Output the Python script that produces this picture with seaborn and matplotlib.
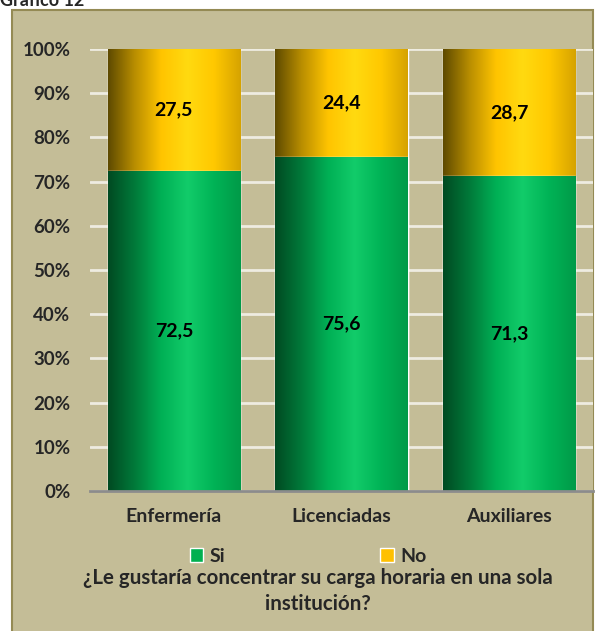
import numpy as np
import pandas as pd
import matplotlib
matplotlib.use("Agg")
import matplotlib.pyplot as plt
import seaborn as sns
from matplotlib.colors import LinearSegmentedColormap
from matplotlib.patches import Patch, Rectangle

# datos del grafico
grupos = ["Enfermería", "Licenciadas", "Auxiliares"]
si = [72.5, 75.6, 71.3]
no = [27.5, 24.4, 28.7]

df = pd.DataFrame({"grupo": grupos, "Si": si, "No": no})
df["total"] = df["Si"] + df["No"]

fondo = "#C4BD97"
sns.set_theme(style="white")
plt.rcParams["font.family"] = ["Lato", "DejaVu Sans"]
plt.rcParams["font.weight"] = "bold"

fig = plt.figure(figsize=(5.97, 6.31), dpi=100)
fig.patch.set_facecolor("white")

# marco del grafico
marco = Rectangle((12 / 597, -0.05), (593 - 12) / 597, 1 - 10 / 631 + 0.05,
                  transform=fig.transFigure, facecolor=fondo,
                  edgecolor="#948A54", linewidth=1.5, zorder=-5)
fig.add_artist(marco)
fig.text(0.0, 1.012, "Gráfico 12", fontsize=13, fontweight="bold", va="top", ha="left")

ax = fig.add_axes([90 / 597, 1 - 491 / 631, (593 - 90) / 597, (491 - 49) / 631])
ax.set_facecolor(fondo)

# barras apiladas: primero el total (No) y encima Si
sns.barplot(data=df, x="grupo", y="total", color="#FFC000", width=0.79,
            saturation=1, ax=ax, zorder=2)
sns.barplot(data=df, x="grupo", y="Si", color="#00B050", width=0.79,
            saturation=1, ax=ax, zorder=3)

cmap_no = LinearSegmentedColormap.from_list("no", ["#5E4A00", "#B98E00", "#FFC400", "#FFDA10", "#FFC800", "#D6A300"])
cmap_si = LinearSegmentedColormap.from_list("si", ["#004A22", "#007A3A", "#00B055", "#12CC6A", "#00B356", "#009A48"])

grad = np.linspace(0, 1, 256).reshape(1, -1)
n = len(grupos)
for i, p in enumerate(ax.patches):
    cmap = cmap_no if i < n else cmap_si
    x0, y0 = p.get_x(), p.get_y()
    w, h = p.get_width(), p.get_height()
    im = ax.imshow(grad, cmap=cmap, aspect="auto", extent=(x0, x0 + w, y0, y0 + h),
                   zorder=p.get_zorder() + 0.5)
    im.set_clip_path(p)

# etiquetas de valores
for i in range(n):
    ax.text(i, si[i] / 2, f"{si[i]:.1f}".replace(".", ","), ha="center", va="center",
            fontsize=14, fontweight="bold", color="black", zorder=10)
    ax.text(i, si[i] + no[i] / 2, f"{no[i]:.1f}".replace(".", ","), ha="center", va="center",
            fontsize=14, fontweight="bold", color="black", zorder=10)

ax.set_xlim(-0.5, n - 0.5)
ax.set_ylim(0, 100)
ax.set_yticks(np.arange(0, 101, 10))
ax.set_yticklabels([f"{v}%" for v in range(0, 101, 10)])
ax.yaxis.grid(True, color="#EEECE1", linewidth=2, zorder=1)
ax.set_axisbelow(True)
for s in ["top", "right", "left"]:
    ax.spines[s].set_visible(False)
ax.spines["bottom"].set_color("#8C8C8C")
ax.spines["bottom"].set_linewidth(2)
ax.spines["bottom"].set_zorder(5)
ax.tick_params(axis="y", length=0, pad=14, labelsize=13.5)
ax.tick_params(axis="x", length=0, pad=12, labelsize=14)
for t in ax.get_xticklabels() + ax.get_yticklabels():
    t.set_fontweight("bold")
ax.set_xlabel("")
ax.set_ylabel("")

handles = [Patch(facecolor="#00B050", label="Si"), Patch(facecolor="#FFC000", label="No")]
fig.legend(handles=handles, loc="center", bbox_to_anchor=(308 / 597, 1 - 556 / 631), ncol=2,
           frameon=False, handlelength=0.7, handleheight=0.7, handletextpad=0.3,
           columnspacing=8.0, prop={"weight": "bold", "size": 14})

fig.text(318 / 597, 1 - 591 / 631, "¿Le gustaría concentrar su carga horaria en una sola\ninstitución?",
         ha="center", va="center", fontsize=14.8, fontweight="bold", linespacing=1.4)

fig.savefig("out.png", dpi=100, facecolor=fig.get_facecolor())
